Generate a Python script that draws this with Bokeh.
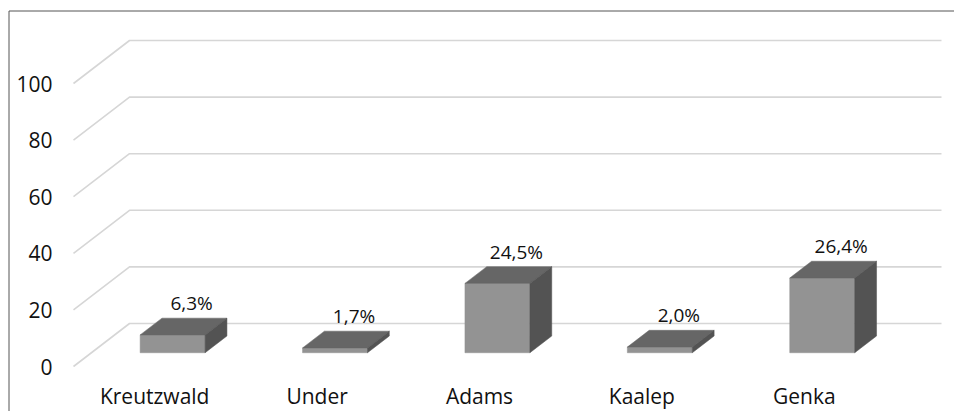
from bokeh.plotting import figure
from bokeh.models import Range1d, ColumnDataSource
from bokeh.core.properties import value
from bokeh.embed import file_html
from bokeh.resources import INLINE

# --- data -------------------------------------------------------------
categories = ["Kreutzwald", "Under", "Adams", "Kaalep", "Genka"]
shares = [6.3, 1.7, 24.5, 2.0, 26.4]
share_labels = ["6,3%", "1,7%", "24,5%", "2,0%", "26,4%"]
y_ticks = [0, 20, 40, 60, 80, 100]
y_tick_labels = ["0", "20", "40", "60", "80", "100"]

# --- layout of the pseudo-3D scene ------------------------------------
W, H = 954, 411
X0_PX = 73.0          # pixel of the front-left corner of the floor
CAT_PX = 162.4        # pixels per category slot
Y0_PX = 366.0         # pixel of value 0 on the front plane
VAL_PX = 2.83         # pixels per value unit
DX = 56.0 / CAT_PX    # depth offset of the back wall (x, data units)
DY = 43.0 / VAL_PX    # depth offset of the back wall (y, data units)
HALF_W = 0.2          # half bar width (category units)
F0, F1 = 0.32, 0.71   # front/back depth fraction of the bars

FRONT = "#939393"
TOP = "#666666"
SIDE = "#535353"
GRID = "#d6d6d6"
FONT = "Open Sans"
INK = "#111111"


def u_at(px):
    return (px - X0_PX) / CAT_PX


def v_at(py):
    return (Y0_PX - py) / VAL_PX


p = figure(width=W, height=H, output_backend="svg", toolbar_location=None,
           x_range=Range1d(u_at(0), u_at(W)), y_range=Range1d(v_at(H), v_at(0)),
           min_border=0, x_axis_type=None, y_axis_type=None)
p.grid.visible = False
p.outline_line_color = None
p.background_fill_color = "white"
p.border_fill_color = "white"

n = len(categories)
centers = [i + 0.5 for i in range(n)]

# perspective gridlines: front diagonal + back horizontal
p.multi_line(xs=[[0, DX, n + DX] for _ in y_ticks],
             ys=[[t, t + DY, t + DY] for t in y_ticks],
             line_color=GRID, line_width=1.6)

# bars
bdx, bdy = (F1 - F0) * DX, (F1 - F0) * DY
x_l = [c - HALF_W + F0 * DX for c in centers]
x_r = [c + HALF_W + F0 * DX for c in centers]
y_b = [F0 * DY for _ in centers]
y_t = [F0 * DY + s for s in shares]

top_xs = [[l, r, r + bdx, l + bdx] for l, r in zip(x_l, x_r)]
top_ys = [[t, t, t + bdy, t + bdy] for t in y_t]
side_xs = [[r, r + bdx, r + bdx, r] for r in x_r]
side_ys = [[b, b + bdy, t + bdy, t] for b, t in zip(y_b, y_t)]

p.quad(left=x_l, right=x_r, bottom=y_b, top=y_t,
       fill_color=FRONT, line_color=FRONT, line_width=0.5)
p.patches(xs=top_xs, ys=top_ys, fill_color=TOP, line_color=TOP, line_width=0.5)
p.patches(xs=side_xs, ys=side_ys, fill_color=SIDE, line_color=SIDE, line_width=0.5)

# value labels above each bar
lab_src = ColumnDataSource(dict(
    x=[c + F0 * DX + 0.117 for c in centers],
    y=[t + bdy for t in y_t],
    text=share_labels))
p.text(x="x", y="y", text="text", source=lab_src, text_align="center",
       text_baseline="middle", y_offset=-15,
       text_font=value(FONT), text_font_size="19px", text_color=INK)

# value axis labels on the front plane
p.text(x=[0] * len(y_ticks), y=y_ticks, text=y_tick_labels, x_offset=-21,
       text_align="right", text_baseline="middle",
       text_font=value(FONT), text_font_size="21px", text_color=INK)

# category labels
p.text(x=centers, y=[0] * n, text=categories, y_offset=29,
       text_align="center", text_baseline="middle",
       text_font=value(FONT), text_font_size="21px", text_color=INK)

# chart border (left and top edges)
p.line(x=[u_at(8.5), u_at(8.5), u_at(W)], y=[v_at(H), v_at(10.5), v_at(10.5)],
       line_color="#555555", line_width=1)

open("out.html", "w").write(file_html(p, INLINE))
